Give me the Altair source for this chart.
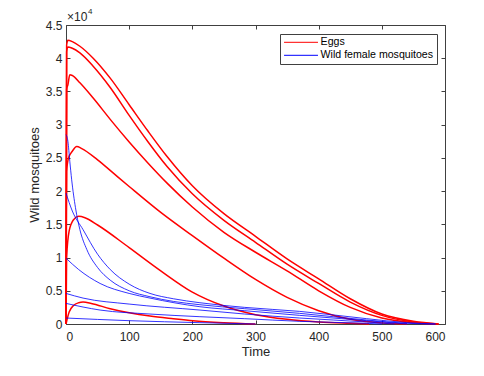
import altair as alt
import pandas as pd

# values in units of 1e4
egg_a_t = [0, 1, 3, 10, 22, 43, 70, 100, 130, 160, 200, 250, 300, 350, 400, 450, 500, 550, 590]
egg_a_v = [0, 4.2, 4.27, 4.25, 4.18, 4.0, 3.7, 3.3, 2.9, 2.52, 2.08, 1.66, 1.32, 0.98, 0.68, 0.38, 0.15, 0.04, 0.0]
egg_b_t = [0, 1, 3, 10, 22, 43, 70, 100, 130, 160, 200, 250, 300, 350, 400, 450, 500, 550, 590]
egg_b_v = [0, 4.1, 4.17, 4.15, 4.08, 3.88, 3.56, 3.14, 2.74, 2.37, 1.96, 1.56, 1.23, 0.9, 0.61, 0.33, 0.13, 0.03, 0.0]
egg_c_t = [0, 1, 3, 6, 10, 22, 43, 70, 100, 130, 160, 200, 250, 300, 350, 400, 450, 500, 550, 585]
egg_c_v = [0, 3.53, 3.6, 3.75, 3.74, 3.63, 3.4, 3.08, 2.74, 2.42, 2.12, 1.76, 1.38, 1.08, 0.8, 0.5, 0.25, 0.09, 0.02, 0.0]
egg_d_t = [0, 1, 4, 10, 17, 25, 50, 75, 100, 150, 200, 250, 300, 350, 400, 450, 500, 540]
egg_d_v = [0, 2.3, 2.5, 2.6, 2.67, 2.64, 2.47, 2.27, 2.07, 1.68, 1.33, 0.99, 0.67, 0.4, 0.2, 0.07, 0.015, 0.0]
egg_e_t = [0, 1, 5, 12, 20, 30, 50, 100, 150, 200, 250, 300, 350, 400, 450, 480]
egg_e_v = [0, 1.0, 1.4, 1.57, 1.62, 1.6, 1.49, 1.15, 0.8, 0.48, 0.27, 0.14, 0.07, 0.03, 0.01, 0.0]
egg_f_t = [0, 5, 12, 20, 27, 40, 70, 100, 133, 170, 201, 250, 300]
egg_f_v = [0, 0.18, 0.28, 0.32, 0.33, 0.31, 0.23, 0.17, 0.12, 0.08, 0.05, 0.02, 0.0]

wild_a_t = [0, 3, 6, 9, 15, 22, 33, 50, 70, 100, 133, 170, 212, 283, 370, 476, 540, 585]
wild_a_v = [2.85, 2.75, 2.45, 2.17, 1.75, 1.42, 1.12, 0.85, 0.66, 0.5, 0.41, 0.34, 0.29, 0.23, 0.16, 0.06, 0.01, 0.0]
wild_b_t = [0, 10, 27, 50, 70, 100, 133, 170, 212, 283, 370, 476, 540, 585]
wild_b_v = [1.97, 1.7, 1.42, 1.05, 0.82, 0.6, 0.46, 0.38, 0.32, 0.25, 0.19, 0.08, 0.02, 0.0]
wild_c_t = [0, 20, 54, 100, 133, 212, 283, 370, 476, 540]
wild_c_v = [0.99, 0.82, 0.61, 0.46, 0.39, 0.26, 0.2, 0.13, 0.05, 0.0]
wild_d_t = [0, 27, 100, 212, 283, 370, 476, 520]
wild_d_v = [0.46, 0.39, 0.3, 0.21, 0.15, 0.09, 0.03, 0.0]
wild_e_t = [0, 54, 133, 212, 283, 370, 476, 500]
wild_e_v = [0.31, 0.21, 0.15, 0.11, 0.08, 0.04, 0.01, 0.0]
wild_f_t = [0, 100, 212, 300]
wild_f_v = [0.09, 0.05, 0.02, 0.0]

series_names = ["Eggs", "Wild female mosquitoes"]
x_ticks = [0, 100, 200, 300, 400, 500, 600]
y_ticks = [0, 0.5, 1, 1.5, 2, 2.5, 3, 3.5, 4, 4.5]

curves = [
    ("e1", "Eggs", egg_a_t, egg_a_v), ("e2", "Eggs", egg_b_t, egg_b_v),
    ("e3", "Eggs", egg_c_t, egg_c_v), ("e4", "Eggs", egg_d_t, egg_d_v),
    ("e5", "Eggs", egg_e_t, egg_e_v), ("e6", "Eggs", egg_f_t, egg_f_v),
    ("w1", "Wild female mosquitoes", wild_a_t, wild_a_v),
    ("w2", "Wild female mosquitoes", wild_b_t, wild_b_v),
    ("w3", "Wild female mosquitoes", wild_c_t, wild_c_v),
    ("w4", "Wild female mosquitoes", wild_d_t, wild_d_v),
    ("w5", "Wild female mosquitoes", wild_e_t, wild_e_v),
    ("w6", "Wild female mosquitoes", wild_f_t, wild_f_v),
]
rows = []
for cid, kind, ts, vs in curves:
    for i, (t, v) in enumerate(zip(ts, vs)):
        rows.append({"id": cid, "kind": kind, "t": t, "v": v, "o": i,
                     "w": 1.5 if kind == "Eggs" else 0.8})
df = pd.DataFrame(rows)

xscale = alt.Scale(domain=[0, 600], nice=False)
yscale = alt.Scale(domain=[0, 4.5], nice=False)
axis_common = dict(grid=False, domain=False, tickSize=4, offset=-4,
                   tickColor="#404040", labelColor="#262626", titleColor="#262626")

lines = alt.Chart(df).mark_line(interpolate="monotone").encode(
    x=alt.X("t:Q", scale=xscale,
            axis=alt.Axis(orient="bottom", title="Time", values=x_ticks, labelPadding=7,
                          titlePadding=3, **axis_common)),
    y=alt.Y("v:Q", scale=yscale,
            axis=alt.Axis(orient="left", title="Wild mosquitoes", values=y_ticks, format="~g",
                          labelPadding=4, titlePadding=4, **axis_common)),
    color=alt.Color("kind:N",
                    scale=alt.Scale(domain=series_names, range=["#ff0000", "#0000ff"]),
                    legend=alt.Legend(title=None, orient="none", legendX=214, legendY=9,
                                      strokeColor="#404040", fillColor="white", padding=3,
                                      labelFontSize=10.6, symbolSize=72,
                                      symbolType="M-1,0H7", symbolStrokeWidth=1,
                                      labelOffset=27, rowPadding=2)),
    detail="id:N",
    order="o:Q",
    strokeWidth=alt.StrokeWidth("w:Q", scale=None),
)

mirror = alt.Chart(df).mark_point(opacity=0).encode(
    x=alt.X("t:Q", scale=xscale,
            axis=alt.Axis(orient="top", title=None, labels=False, values=x_ticks, **axis_common)),
    y=alt.Y("v:Q", scale=yscale,
            axis=alt.Axis(orient="right", title=None, labels=False, values=y_ticks, **axis_common)),
)

exp_base = alt.Chart(pd.DataFrame({"s": ["×10"]})).mark_text(
    align="left", baseline="middle", fontSize=12, color="#262626", font="Liberation Sans"
).encode(text="s:N", x=alt.value(1), y=alt.value(-8))
exp_pow = alt.Chart(pd.DataFrame({"s": ["4"]})).mark_text(
    align="left", baseline="middle", fontSize=8, color="#262626", font="Liberation Sans"
).encode(text="s:N", x=alt.value(22), y=alt.value(-13))

chart = alt.layer(lines, mirror, exp_base, exp_pow).properties(
    width=379, height=299,
    autosize=alt.AutoSizeParams(type="none"),
    padding={"left": 58, "top": 17, "right": 31, "bottom": 44},
).configure(font="Liberation Sans").configure_view(
    stroke="#404040", strokeWidth=1
).configure_axis(labelFontSize=12, titleFontSize=13, titleFontWeight="normal",
                 labelFont="Liberation Sans", titleFont="Liberation Sans")

chart.save("out.html", embed_options={"renderer": "svg", "actions": False})
